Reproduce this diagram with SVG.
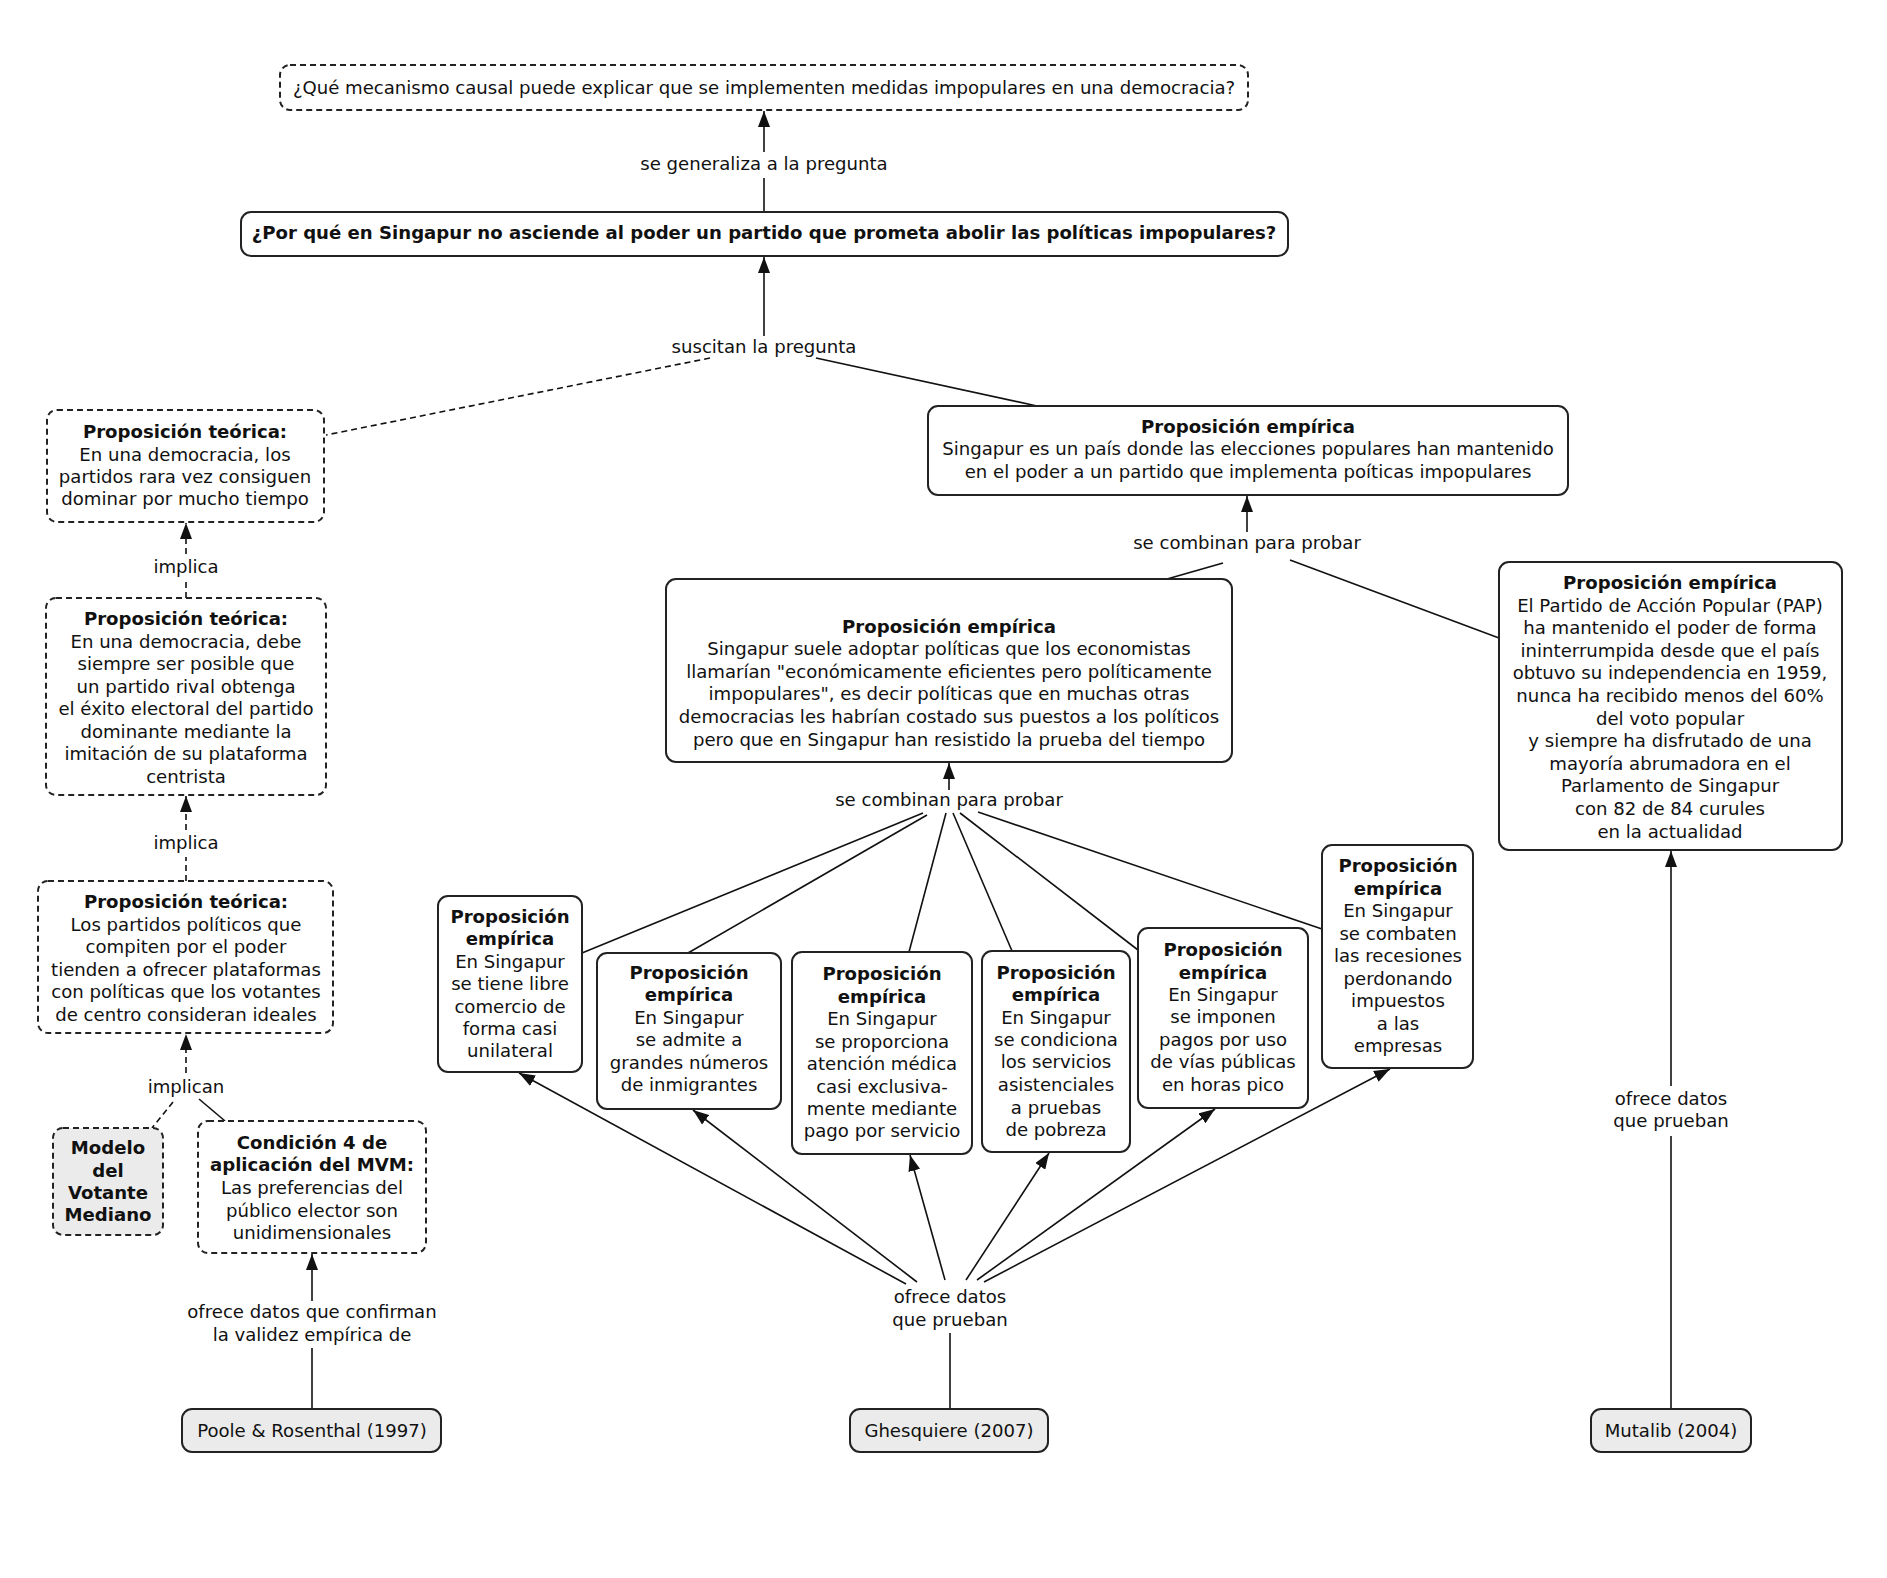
<svg xmlns="http://www.w3.org/2000/svg" width="1887" height="1578" viewBox="0 0 1887 1578">
<style>
text{font-family:"DejaVu Sans","Verdana",sans-serif;font-size:18.1px;fill:#111;text-anchor:middle}
.b{font-weight:bold}
.box{fill:#fff;stroke:#222;stroke-width:2}
.gray{fill:#ebebeb}
.dash{stroke-dasharray:6 4}
.ln{fill:none;stroke:#111;stroke-width:1.6}
.arr{marker-end:url(#ah)}
</style>
<defs>
<marker id="ah" viewBox="0 0 16 12" refX="16" refY="6" markerWidth="16" markerHeight="12" markerUnits="userSpaceOnUse" orient="auto">
<path d="M0,0 L16,6 L0,12 z" fill="#111"/>
</marker>
</defs>
<rect width="1887" height="1578" fill="#fff"/>

<g id="connectors">
<line class="ln" x1="764" y1="212" x2="764" y2="178"/>
<line class="ln arr" x1="764" y1="152" x2="764" y2="111"/>
<line class="ln arr" x1="764" y1="336" x2="764" y2="257"/>
<line class="ln dash" x1="710" y1="358" x2="326" y2="435"/>
<line class="ln" x1="816" y1="358" x2="1037" y2="406"/>
<line class="ln dash" x1="186" y1="598" x2="186" y2="580"/>
<line class="ln dash arr" x1="186" y1="554" x2="186" y2="523"/>
<line class="ln dash" x1="186" y1="881" x2="186" y2="857"/>
<line class="ln dash arr" x1="186" y1="830" x2="186" y2="796"/>
<line class="ln dash arr" x1="186" y1="1073" x2="186" y2="1034"/>
<line class="ln dash" x1="173" y1="1102" x2="152" y2="1128"/>
<line class="ln" x1="199" y1="1099" x2="225" y2="1121"/>
<line class="ln" x1="312" y1="1409" x2="312" y2="1348"/>
<line class="ln arr" x1="312" y1="1301" x2="312" y2="1254"/>
<line class="ln arr" x1="1247" y1="532" x2="1247" y2="496"/>
<line class="ln" x1="1223" y1="563" x2="1167" y2="579"/>
<line class="ln" x1="1290" y1="560" x2="1499" y2="638"/>
<line class="ln arr" x1="949" y1="790" x2="949" y2="763"/>
<line class="ln" x1="923" y1="813" x2="582" y2="953"/>
<line class="ln" x1="927" y1="815" x2="688" y2="953"/>
<line class="ln" x1="946" y1="813" x2="909" y2="952"/>
<line class="ln" x1="953" y1="813" x2="1012" y2="951"/>
<line class="ln" x1="960" y1="813" x2="1138" y2="950"/>
<line class="ln" x1="978" y1="812" x2="1322" y2="929"/>
<line class="ln arr" x1="906" y1="1284" x2="519" y2="1073"/>
<line class="ln arr" x1="917" y1="1282" x2="693" y2="1110"/>
<line class="ln arr" x1="945" y1="1280" x2="910" y2="1155"/>
<line class="ln arr" x1="966" y1="1280" x2="1049" y2="1153"/>
<line class="ln arr" x1="977" y1="1280" x2="1215" y2="1109"/>
<line class="ln arr" x1="984" y1="1282" x2="1390" y2="1069"/>
<line class="ln" x1="950" y1="1333" x2="950" y2="1409"/>
<line class="ln" x1="1671" y1="1409" x2="1671" y2="1136"/>
<line class="ln arr" x1="1671" y1="1086" x2="1671" y2="851"/>
<text x="764" y="170">se generaliza a la pregunta</text>
<text x="764" y="353">suscitan la pregunta</text>
<text x="186" y="573">implica</text>
<text x="186" y="849">implica</text>
<text x="186" y="1093">implican</text>
<text x="312" y="1318">ofrece datos que confirman</text>
<text x="312" y="1341">la validez empírica de</text>
<text x="1247" y="549">se combinan para probar</text>
<text x="949" y="806">se combinan para probar</text>
<text x="950" y="1303">ofrece datos</text>
<text x="950" y="1326">que prueban</text>
<text x="1671" y="1105">ofrece datos</text>
<text x="1671" y="1127">que prueban</text>
</g>

<g id="q1">
<rect class="box dash" x="280" y="65" width="968" height="45" rx="10"/>
<text x="764" y="94">¿Qué mecanismo causal puede explicar que se implementen medidas impopulares en una democracia?</text>
</g>

<g id="q2">
<rect class="box" x="241" y="212" width="1047" height="44" rx="10"/>
<text class="b" x="764" y="239">¿Por qué en Singapur no asciende al poder un partido que prometa abolir las políticas impopulares?</text>
</g>

<g id="pt1">
<rect class="box dash" x="47" y="410" width="277" height="112" rx="10"/>
<text class="b" x="185" y="438">Proposición teórica:</text>
<text x="185" y="461">En una democracia, los</text>
<text x="185" y="483">partidos rara vez consiguen</text>
<text x="185" y="505">dominar por mucho tiempo</text>
</g>

<g id="pt2">
<rect class="box dash" x="46" y="598" width="280" height="197" rx="10"/>
<text class="b" x="186" y="625">Proposición teórica:</text>
<text x="186" y="648">En una democracia, debe</text>
<text x="186" y="670">siempre ser posible que</text>
<text x="186" y="693">un partido rival obtenga</text>
<text x="186" y="715">el éxito electoral del partido</text>
<text x="186" y="738">dominante mediante la</text>
<text x="186" y="760">imitación de su plataforma</text>
<text x="186" y="783">centrista</text>
</g>

<g id="pt3">
<rect class="box dash" x="38" y="881" width="295" height="152" rx="10"/>
<text class="b" x="186" y="908">Proposición teórica:</text>
<text x="186" y="931">Los partidos políticos que</text>
<text x="186" y="953">compiten por el poder</text>
<text x="186" y="976">tienden a ofrecer plataformas</text>
<text x="186" y="998">con políticas que los votantes</text>
<text x="186" y="1021">de centro consideran ideales</text>
</g>

<g id="mvm">
<rect class="box gray dash" x="53" y="1128" width="110" height="107" rx="10"/>
<text class="b" x="108" y="1154">Modelo</text>
<text class="b" x="108" y="1177">del</text>
<text class="b" x="108" y="1199">Votante</text>
<text class="b" x="108" y="1221">Mediano</text>
</g>

<g id="cond4">
<rect class="box dash" x="198" y="1121" width="228" height="132" rx="10"/>
<text class="b" x="312" y="1149">Condición 4 de</text>
<text class="b" x="312" y="1171">aplicación del MVM:</text>
<text x="312" y="1194">Las preferencias del</text>
<text x="312" y="1217">público elector son</text>
<text x="312" y="1239">unidimensionales</text>
</g>

<g id="poole">
<rect class="box gray" x="182" y="1409" width="259" height="43" rx="10"/>
<text x="312" y="1437">Poole &amp; Rosenthal (1997)</text>
</g>

<g id="pe-main">
<rect class="box" x="928" y="406" width="640" height="89" rx="10"/>
<text class="b" x="1248" y="433">Proposición empírica</text>
<text x="1248" y="455">Singapur es un país donde las elecciones populares han mantenido</text>
<text x="1248" y="478">en el poder a un partido que implementa poíticas impopulares</text>
</g>

<g id="pe-suele">
<rect class="box" x="666" y="579" width="566" height="183" rx="10"/>
<text class="b" x="949" y="633">Proposición empírica</text>
<text x="949" y="655">Singapur suele adoptar políticas que los economistas</text>
<text x="949" y="678">llamarían "económicamente eficientes pero políticamente</text>
<text x="949" y="700">impopulares", es decir políticas que en muchas otras</text>
<text x="949" y="723">democracias les habrían costado sus puestos a los políticos</text>
<text x="949" y="746">pero que en Singapur han resistido la prueba del tiempo</text>
</g>

<g id="pe-pap">
<rect class="box" x="1499" y="562" width="343" height="288" rx="10"/>
<text class="b" x="1670" y="589">Proposición empírica</text>
<text x="1670" y="611.6">El Partido de Acción Popular (PAP)</text>
<text x="1670" y="634.2">ha mantenido el poder de forma</text>
<text x="1670" y="656.8">ininterrumpida desde que el país</text>
<text x="1670" y="679.4">obtuvo su independencia en 1959,</text>
<text x="1670" y="702">nunca ha recibido menos del 60%</text>
<text x="1670" y="724.6">del voto popular</text>
<text x="1670" y="747.2">y siempre ha disfrutado de una</text>
<text x="1670" y="769.8">mayoría abrumadora en el</text>
<text x="1670" y="792.4">Parlamento de Singapur</text>
<text x="1670" y="815">con 82 de 84 curules</text>
<text x="1670" y="837.6">en la actualidad</text>
</g>

<g id="b1">
<rect class="box" x="438" y="896" width="144" height="176" rx="10"/>
<text class="b" x="510" y="923">Proposición</text>
<text class="b" x="510" y="945">empírica</text>
<text x="510" y="968">En Singapur</text>
<text x="510" y="990">se tiene libre</text>
<text x="510" y="1013">comercio de</text>
<text x="510" y="1035">forma casi</text>
<text x="510" y="1057">unilateral</text>
</g>

<g id="b2">
<rect class="box" x="597" y="953" width="184" height="156" rx="10"/>
<text class="b" x="689" y="979">Proposición</text>
<text class="b" x="689" y="1001">empírica</text>
<text x="689" y="1024">En Singapur</text>
<text x="689" y="1046">se admite a</text>
<text x="689" y="1069">grandes números</text>
<text x="689" y="1091">de inmigrantes</text>
</g>

<g id="b3">
<rect class="box" x="792" y="952" width="180" height="202" rx="10"/>
<text class="b" x="882" y="980">Proposición</text>
<text class="b" x="882" y="1003">empírica</text>
<text x="882" y="1025">En Singapur</text>
<text x="882" y="1048">se proporciona</text>
<text x="882" y="1070">atención médica</text>
<text x="882" y="1093">casi exclusiva-</text>
<text x="882" y="1115">mente mediante</text>
<text x="882" y="1137">pago por servicio</text>
</g>

<g id="b4">
<rect class="box" x="982" y="951" width="148" height="201" rx="10"/>
<text class="b" x="1056" y="979">Proposición</text>
<text class="b" x="1056" y="1001">empírica</text>
<text x="1056" y="1024">En Singapur</text>
<text x="1056" y="1046">se condiciona</text>
<text x="1056" y="1068">los servicios</text>
<text x="1056" y="1091">asistenciales</text>
<text x="1056" y="1114">a pruebas</text>
<text x="1056" y="1136">de pobreza</text>
</g>

<g id="b5">
<rect class="box" x="1138" y="928" width="170" height="180" rx="10"/>
<text class="b" x="1223" y="956">Proposición</text>
<text class="b" x="1223" y="979">empírica</text>
<text x="1223" y="1001">En Singapur</text>
<text x="1223" y="1023">se imponen</text>
<text x="1223" y="1046">pagos por uso</text>
<text x="1223" y="1068">de vías públicas</text>
<text x="1223" y="1091">en horas pico</text>
</g>

<g id="b6">
<rect class="box" x="1322" y="845" width="151" height="223" rx="10"/>
<text class="b" x="1398" y="872">Proposición</text>
<text class="b" x="1398" y="894.5">empírica</text>
<text x="1398" y="917">En Singapur</text>
<text x="1398" y="939.5">se combaten</text>
<text x="1398" y="962">las recesiones</text>
<text x="1398" y="984.5">perdonando</text>
<text x="1398" y="1007">impuestos</text>
<text x="1398" y="1029.5">a las</text>
<text x="1398" y="1052">empresas</text>
</g>

<g id="ghesquiere">
<rect class="box gray" x="850" y="1409" width="198" height="43" rx="10"/>
<text x="949" y="1437">Ghesquiere (2007)</text>
</g>

<g id="mutalib">
<rect class="box gray" x="1591" y="1409" width="160" height="43" rx="10"/>
<text x="1671" y="1437">Mutalib (2004)</text>
</g>
</svg>
